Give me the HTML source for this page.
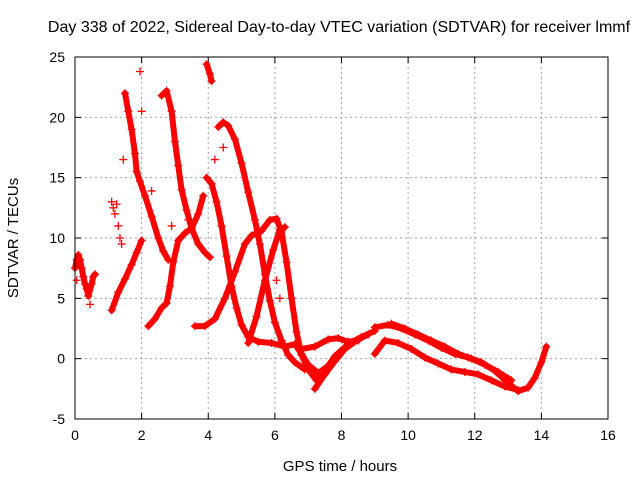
<!DOCTYPE html>
<html><head><meta charset="utf-8"><style>
body{margin:0;background:#fff}
svg{display:block;font-family:"Liberation Sans",sans-serif}
</style></head><body>
<svg id="c" width="640" height="480"></svg>
<script>
const xTicks=[0,2,4,6,8,10,12,14,16];
const yTicks=[-5,0,5,10,15,20,25];
const track1=[[0,7.5],[0.05,8.2],[0.1,8.6],[0.15,8.2],[0.2,7.5],[0.25,6.8],[0.3,6.2],[0.35,5.8],[0.4,5.2],[0.5,6.2],[0.55,6.8],[0.6,7]];
const track2=[[1.1,4],[1.3,5.5],[1.5,6.6],[1.7,7.8],[1.85,8.8],[2.0,9.8]];
const track3=[[1.5,22],[1.6,20.5],[1.7,19],[1.8,17],[1.85,15.5],[1.95,14.7],[2.1,13.5],[2.3,11.8],[2.5,10],[2.65,8.9],[2.8,8.2]];
const track4=[[2.6,21.8],[2.75,22.2],[2.9,20.5],[3.0,18],[3.1,16],[3.2,14],[3.35,12.3],[3.5,10.8],[3.7,9.5],[3.9,8.8],[4.05,8.4]];
const track5=[[2.2,2.7],[2.4,3.3],[2.6,4.2],[2.75,4.6],[2.85,6],[2.95,8],[3.1,9.8],[3.3,10.4],[3.5,10.8],[3.7,12],[3.85,13.5]];
const track6=[[3.95,15],[4.1,14.5],[4.25,13],[4.4,11],[4.55,8.5],[4.7,6],[4.85,4.2],[5.0,2.8],[5.2,1.8],[5.5,1.4],[5.9,1.3],[6.3,1.0],[6.6,1.2],[6.8,0.4],[7.0,-0.5],[7.3,-1.2],[7.6,-0.6]];
const track7=[[3.95,24.4],[4.05,23.6],[4.1,23]];
const track8=[[4.3,19.2],[4.45,19.6],[4.6,19.3],[4.8,18.2],[5.0,16.2],[5.2,13.8],[5.4,11.5],[5.55,9.5],[5.7,7],[5.85,4.8],[6.0,3],[6.2,1.5],[6.4,0.3],[6.6,-0.3],[6.9,-0.9]];
const track9=[[3.6,2.7],[3.9,2.7],[4.2,3.3],[4.5,5],[4.8,7.2],[5.1,9.5],[5.3,10.2],[5.6,10.6],[5.85,11.5],[6.05,11.6],[6.2,10.5],[6.35,8],[6.5,5],[6.65,2.2],[6.8,0.3],[7.0,-0.9],[7.25,-1.8],[7.5,-1],[7.8,0.2],[8.2,1.2],[8.6,1.8],[9.0,2.3]];
const track10=[[5.2,1.3],[5.45,3.5],[5.7,6.5],[5.95,9],[6.15,10.7],[6.3,10.9]];
const track11=[[7.2,-2.5],[7.5,-1.3],[7.8,-0.2],[8.1,0.8],[8.5,1.6],[8.8,2.0]];
const track12=[[6.8,0.8],[7.2,1.0],[7.6,1.6],[7.9,1.7],[8.2,1.4],[8.5,1.5]];
const track13=[[9.0,2.6],[9.4,2.8],[9.8,2.5],[10.2,2],[10.6,1.5],[11,0.9],[11.4,0.4],[11.8,0.1],[12.2,-0.3],[12.6,-1],[13.0,-2],[13.3,-2.7],[13.6,-2.4],[13.8,-1.6],[14.0,-0.3],[14.15,1]];
const track14=[[9.0,0.4],[9.3,1.5],[9.7,1.3],[10.1,0.8],[10.5,0.1],[10.9,-0.4],[11.3,-0.9],[11.7,-1.1],[12.1,-1.3],[12.5,-1.8],[12.9,-2.3],[13.3,-2.6]];
const track15=[[9.5,2.9],[9.9,2.5],[10.3,2.0],[10.7,1.5],[11.1,1.0],[11.5,0.4],[11.9,0.0],[12.3,-0.5],[12.7,-1.1],[13.1,-1.8]];
const tracks=[track1,track2,track3,track4,track5,track6,track7,track8,track9,track10,track11,track12,track13,track14,track15];
const stray=[[1.1,13],[1.15,12.5],[1.2,12],[1.25,12.8],[1.3,11],[1.35,10],[1.4,9.5],[1.45,16.5],[1.95,23.8],[2.0,20.5],[2.3,13.9],[2.9,11],[3.4,11.5],[4.2,16.5],[4.45,17.5],[6.05,6.5],[6.15,5],[0.05,6.5],[0.45,4.5]];
const NS="http://www.w3.org/2000/svg";
const svg=document.getElementById('c');
const L=75,R=608,T=57,B=419;
const sx=h=>L+(h-0)/16*(R-L);
const sy=v=>B-(v+5)/30*(B-T);
function mk(t,a){const e=document.createElementNS(NS,t);for(const k in a)e.setAttribute(k,a[k]);svg.appendChild(e);return e;}
xTicks.forEach(t=>{
 if(t>0&&t<16){const g=mk('line',{x1:sx(t),x2:sx(t),y1:T,y2:B,stroke:'#a0a0a0','stroke-dasharray':'2,3'});
 
 }
 const tx=mk('text',{x:sx(t),y:B+21,'text-anchor':'middle','font-size':14,fill:'#000'});tx.textContent=t;
 
 
 mk('line',{x1:sx(t),x2:sx(t),y1:B,y2:B-6,stroke:'#000'});mk('line',{x1:sx(t),x2:sx(t),y1:T,y2:T+6,stroke:'#000'});
});
yTicks.forEach(t=>{
 if(t>-5&&t<25){const g=mk('line',{x1:L,x2:R,y1:sy(t),y2:sy(t),stroke:'#a0a0a0','stroke-dasharray':'2,3'});
 
 }
 const tx=mk('text',{x:L-10,y:sy(t)+5,'text-anchor':'end','font-size':14,fill:'#000'});tx.textContent=t;
 
 
 mk('line',{x1:L,x2:L+6,y1:sy(t),y2:sy(t),stroke:'#000'});mk('line',{x1:R,x2:R-6,y1:sy(t),y2:sy(t),stroke:'#000'});
});
tracks.forEach(tr=>{
 const p=mk('polyline',{points:tr.map(d=>sx(d[0])+','+sy(d[1])).join(' '),fill:'none',stroke:'#f00','stroke-width':6,'stroke-linejoin':'round','stroke-linecap':'round'});
 
 
 tr.forEach(d=>{const m=mk('path',{d:`M${sx(d[0])-4},${sy(d[1])}h8M${sx(d[0])},${sy(d[1])-4}v8`,stroke:'#f00','stroke-width':1.3});
 
 });
});
stray.forEach(d=>{const m=mk('path',{d:`M${sx(d[0])-4},${sy(d[1])}h8M${sx(d[0])},${sy(d[1])-4}v8`,stroke:'#f00','stroke-width':1.3});
 
 });
const fr=mk('rect',{x:L,y:T,width:R-L,height:B-T,fill:'none',stroke:'#000'});


</script>
<svg style="position:absolute;left:0;top:0" width="640" height="480">
<text x="339" y="32" text-anchor="middle" font-size="16" font-family="Liberation Sans,sans-serif">Day 338 of 2022, Sidereal Day-to-day VTEC variation (SDTVAR) for receiver lmmf</text>
<text x="340" y="471" text-anchor="middle" font-size="15" font-family="Liberation Sans,sans-serif">GPS time / hours</text>
<text x="18" y="238" text-anchor="middle" font-size="15" font-family="Liberation Sans,sans-serif" transform="rotate(-90 18 238)">SDTVAR / TECUs</text>
</svg>
</body></html>
